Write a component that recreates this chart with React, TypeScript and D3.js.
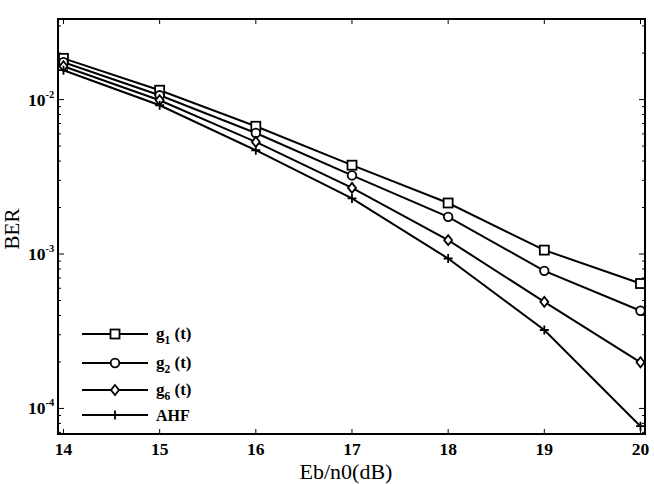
import React from "react";
import * as d3 from "d3";

const xValues = [14, 15, 16, 17, 18, 19, 20];
const g1 = [0.0185, 0.0115, 0.00672, 0.00376, 0.00214, 0.00106, 0.000644];
const g2 = [0.01745, 0.01066, 0.00608, 0.00323, 0.00174, 0.000778, 0.000429];
const g6 = [0.01644, 0.0099, 0.00532, 0.00268, 0.00123, 0.00049, 0.000199];
const ahf = [0.0155, 0.00919, 0.0047, 0.00229, 0.000935, 0.000322, 0.0000767];
const seriesNames = ["g1", "g2", "g6", "AHF"];
const seriesMarkers = ["square", "circle", "diamond", "plus"];
const xTicks = [14, 15, 16, 17, 18, 19, 20];
const yMajor = [1e-2, 1e-3, 1e-4];
const yMajorExp = ["-2", "-3", "-4"];

const W = 654, H = 484;
const L = 58, R = 645, T = 19, B = 434;

function Marker({ type, x, y }: { type: string; x: number; y: number }) {
  const s = 4.5;
  const st = { fill: "white", stroke: "black", strokeWidth: 1.8 } as any;
  if (type === "square") return <rect x={x - s} y={y - s} width={2 * s} height={2 * s} {...st} />;
  if (type === "circle") return <circle cx={x} cy={y} r={4.3} {...st} />;
  if (type === "diamond")
    return <path d={`M${x},${y - 5} L${x + 4},${y} L${x},${y + 5} L${x - 4},${y} Z`} {...st} />;
  return (
    <path d={`M${x - 4.5},${y} L${x + 4.5},${y} M${x},${y - 4.5} L${x},${y + 4.5}`} stroke="black" strokeWidth={1.8} fill="none" />
  );
}

export default function App() {
  const x = d3.scaleLinear().domain([13.943, 20.047]).range([L, R]);
  const y = d3.scaleLog().domain([6.83e-5, 0.03326]).range([B, T]);
  const allSeries = [g1, g2, g6, ahf];
  const line = d3
    .line<number>()
    .x((_, i) => x(xValues[i]))
    .y((d) => y(d));

  const minorTicks: number[] = [];
  for (let e = -5; e <= -1; e++) {
    for (let m = 1; m <= 9; m++) {
      const v = m * Math.pow(10, e);
      if (v >= 6.83e-5 && v <= 0.03326) minorTicks.push(v);
    }
  }

  const serif = "'Liberation Serif', 'Times New Roman', serif";
  const legendRows = [334, 363, 390, 415];
  const legendSubs = ["1", "2", "6"];

  return (
    <svg width={W} height={H} style={{ position: "absolute", left: 0, top: 0 }} fontFamily={serif}>
      <rect x={0} y={0} width={W} height={H} fill="white" />
      {xTicks.map((t) => (
        <g key={"xt" + t}>
          <line x1={x(t)} x2={x(t)} y1={B} y2={B - 5} stroke="black" strokeWidth={1} />
          <line x1={x(t)} x2={x(t)} y1={T} y2={T + 5} stroke="black" strokeWidth={1} />
          <text x={x(t)} y={455} textAnchor="middle" fontWeight="bold" fontSize={17.5}>
            {t}
          </text>
        </g>
      ))}
      {minorTicks.map((v, i) => {
        const major = yMajor.some((m) => Math.abs(m - v) / m < 1e-6);
        const len = major ? 6 : 3;
        return (
          <g key={"yt" + i}>
            <line x1={L} x2={L + len} y1={y(v)} y2={y(v)} stroke="black" strokeWidth={1} />
            <line x1={R} x2={R - len} y1={y(v)} y2={y(v)} stroke="black" strokeWidth={1} />
          </g>
        );
      })}
      {yMajor.map((v, i) => (
        <text key={"yl" + i} x={28} y={y(v) + 6} fontWeight="bold" fontSize={17.5}>
          10
          <tspan dy={-8} fontSize={10.5}>
            {yMajorExp[i]}
          </tspan>
        </text>
      ))}
      {allSeries.map((s, si) => (
        <g key={seriesNames[si]}>
          <path d={line(s) || ""} fill="none" stroke="black" strokeWidth={2} />
          {s.map((v, i) => (
            <Marker key={i} type={seriesMarkers[si]} x={x(xValues[i])} y={y(v)} />
          ))}
        </g>
      ))}
      <rect x={L} y={T} width={R - L} height={B - T} fill="none" stroke="black" strokeWidth={2} />
      {seriesNames.map((n, i) => (
        <g key={"lg" + n}>
          <line x1={82} x2={148} y1={legendRows[i]} y2={legendRows[i]} stroke="black" strokeWidth={2} />
          <Marker type={seriesMarkers[i]} x={115} y={legendRows[i]} />
          {i < 3 ? (
            <text x={156} y={legendRows[i] + 5} fontWeight="bold" fontSize={17}>
              g
              <tspan dy={5} fontSize={11.5}>
                {legendSubs[i]}
              </tspan>
              <tspan dy={-5}> (t)</tspan>
            </text>
          ) : (
            <text x={156} y={legendRows[i] + 6} fontWeight="bold" fontSize={16}>
              AHF
            </text>
          )}
        </g>
      ))}
      <text x={346} y={479} textAnchor="middle" fontSize={22}>
        Eb/n0(dB)
      </text>
      <text transform="translate(19,229) rotate(-90)" textAnchor="middle" fontSize={21}>
        BER
      </text>
    </svg>
  );
}
